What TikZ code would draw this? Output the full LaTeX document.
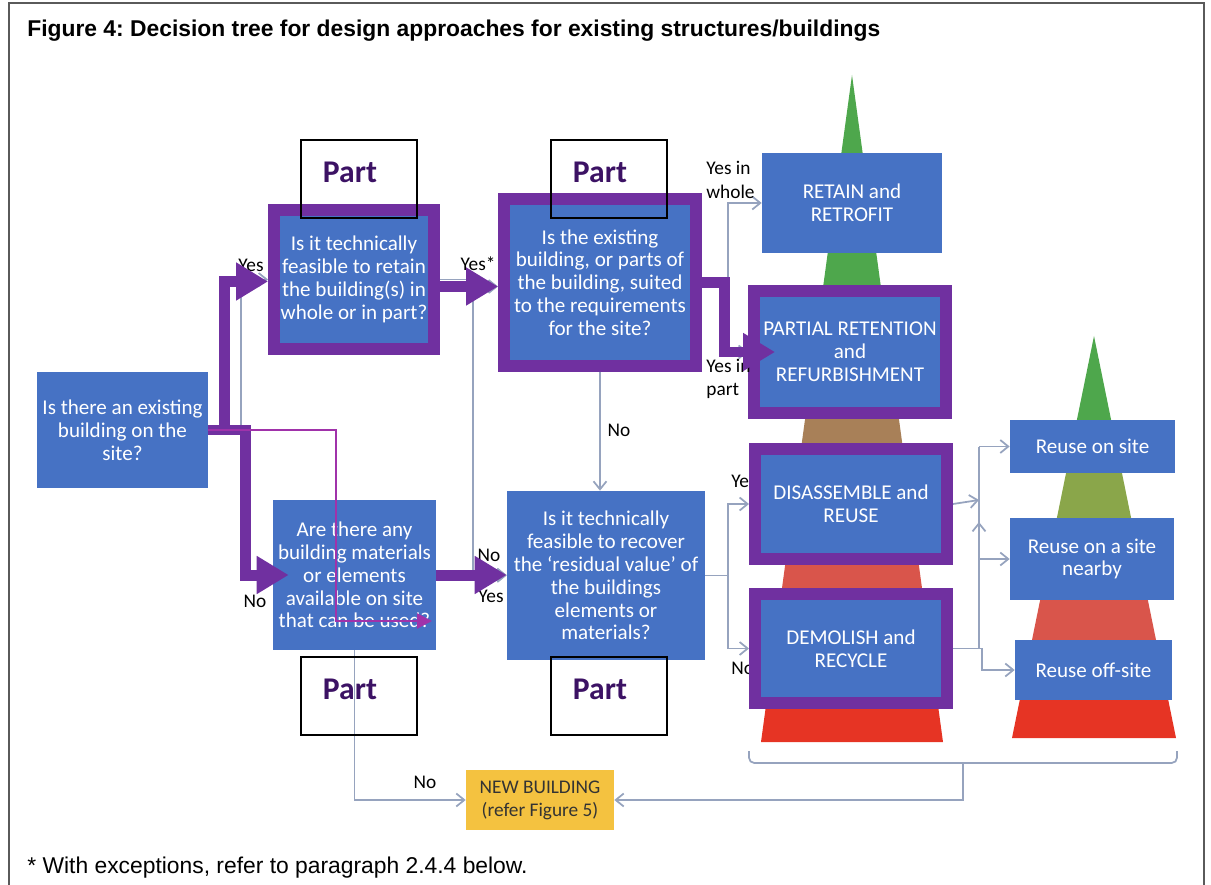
\documentclass[tikz,border=0pt]{standalone}
\usepackage{fontspec}
\setmainfont{Carlito}
\newfontfamily\arialfont{Liberation Sans}
\usetikzlibrary{positioning,arrows.meta}
\frenchspacing

\definecolor{boxblue}{RGB}{70,114,196}
\definecolor{hlpurple}{RGB}{112,48,160}
\definecolor{linegray}{RGB}{150,163,190}
\definecolor{thinmag}{RGB}{160,50,170}
\definecolor{newyellow}{RGB}{244,194,64}
\definecolor{partpurple}{RGB}{60,18,100}
\definecolor{pygreen}{RGB}{78,167,76}
\definecolor{pybrown}{RGB}{168,128,88}
\definecolor{pyolive}{RGB}{138,166,74}
\definecolor{pylred}{RGB}{217,85,75}
\definecolor{pyred}{RGB}{230,52,36}
\definecolor{framegray}{RGB}{90,90,90}

\begin{document}
\begin{tikzpicture}
  [x=0.02cm,y=-0.02cm,
   qbox/.style={rectangle,fill=boxblue,text=white,align=center,inner sep=0pt,
     font=\fontsize{12}{13}\selectfont},
   hlbox/.style={qbox,draw=hlpurple,line width=0.24cm},
   partbox/.style={rectangle,draw=black,line width=0.6pt,minimum width=2.32cm,minimum height=1.56cm},
   parttext/.style={text=partpurple,inner sep=0pt,font=\fontsize{18}{20}\selectfont\bfseries},
   lbl/.style={inner sep=0pt,align=left,font=\fontsize{11}{13.5}\selectfont},
   link/.style={draw=linegray,line width=1pt},
   linkto/.style={link,-{Straight Barb[length=0.16cm,width=0.26cm]}},
   bigarrow/.style={draw=hlpurple,line width=0.22cm,-{Triangle[length=0.64cm,width=0.72cm]}}]

  \useasboundingbox (0,0) rectangle (1211,885);
  \draw[framegray,line width=1pt] (9,885) -- (9,3) -- (1204,3) -- (1204,885);

  \node[anchor=west,inner sep=0pt,font=\arialfont\bfseries\fontsize{13}{15}\selectfont] (title) at (27,31)
    {Figure 4: Decision tree for design approaches for existing structures/buildings};
  \node[anchor=west,inner sep=0pt,font=\arialfont\fontsize{13}{15}\selectfont] (note) at (27,868)
    {* With exceptions, refer to paragraph 2.4.4 below.};

  % pyramids
  \begin{scope}
    \clip (852,75) -- (943,742) -- (761,742) -- cycle;
    \fill[pygreen] (740,60) rectangle (960,300);
    \fill[pybrown] (740,300) rectangle (960,450);
    \fill[pylred] (740,450) rectangle (960,600);
    \fill[pyred] (740,600) rectangle (960,750);
  \end{scope}
  \begin{scope}
    \clip (1094,336) -- (1176,738) -- (1012,738) -- cycle;
    \fill[pygreen] (1000,320) rectangle (1190,430);
    \fill[pyolive] (1000,430) rectangle (1190,520);
    \fill[pylred] (1000,520) rectangle (1190,650);
    \fill[pyred] (1000,650) rectangle (1190,750);
  \end{scope}

  % boxes
  \node[qbox,minimum width=3.42cm,minimum height=2.32cm] (exist) at (122.5,430)
    {Is there an existing\\building on the\\site?};
  \node[hlbox,minimum width=3.2cm,minimum height=2.78cm] (q2) at (354,279.5)
    {Is it technically\\feasible to retain\\the building(s) in\\whole or in part?};
  \node[hlbox,minimum width=3.84cm,minimum height=3.34cm] (q3) at (600,282.5)
    {Is the existing\\building, or parts of\\the building, suited\\to the requirements\\for the site?};
  \node[qbox,minimum width=3.26cm,minimum height=3.0cm] (q4) at (354.5,575)
    {Are there any\\building materials\\or elements\\available on site\\that can be used?};
  \node[qbox,minimum width=3.96cm,minimum height=3.38cm] (q5) at (606,575.5)
    {Is it technically\\feasible to recover\\the `residual value' of\\the buildings\\elements or\\materials?};
  \node[qbox,minimum width=3.6cm,minimum height=2.0cm] (retain) at (852,203)
    {RETAIN and\\RETROFIT};
  \node[hlbox,minimum width=3.84cm,minimum height=2.44cm] (partial) at (850,352)
    {PARTIAL RETENTION\\and\\REFURBISHMENT};
  \node[hlbox,minimum width=3.84cm,minimum height=2.2cm] (disas) at (851,504)
    {DISASSEMBLE and\\REUSE};
  \node[hlbox,minimum width=3.84cm,minimum height=2.18cm] (demol) at (851,648.5)
    {DEMOLISH and\\RECYCLE};
  \node[qbox,minimum width=3.3cm,minimum height=1.06cm] (onsite) at (1092.5,446.5)
    {Reuse on site};
  \node[qbox,minimum width=3.28cm,minimum height=1.64cm] (nearby) at (1092,559)
    {Reuse on a site\\nearby};
  \node[qbox,minimum width=3.14cm,minimum height=1.2cm] (offsite) at (1093.5,670)
    {Reuse off-site};
  \node[qbox,fill=newyellow,text=black!80,minimum width=2.96cm,minimum height=1.2cm,
    font=\fontsize{11}{13}\selectfont] (newb) at (540,800)
    {NEW BUILDING\\(refer Figure 5)};

  % thin connectors
  \draw[linkto] (exist.east) -- ++(33,0) |- (q2.west);
  \draw[linkto] (exist.east) -- ++(33,0) |- (q4.west);
  \draw[linkto] ([shift={(0,7)}]q2.east) -- ([shift={(0,7)}]q2.east -| q3.west);
  \draw[linkto] (q2.east) -- ++(33,0) |- (q5.west);
  \draw[linkto] (q4.east) -- (q4.east -| q5.west);
  \draw[linkto] (q3.south) -- (q3.south |- q5.north);
  \draw[linkto] (q3.east) -- ++(26,0) |- (retain.west);
  \draw[linkto] (q3.east) -- ++(26,0) |- (partial.west);
  \draw[linkto] (q5.east) -- ++(23,0) |- (disas.west);
  \draw[linkto] (q5.east) -- ++(23,0) |- (demol.west);
  \coordinate (bus) at (979,500);
  \draw[linkto] (disas.east) -- (bus);
  \draw[link] (bus |- onsite.west) -- (bus |- nearby.west);
  \draw[linkto] (bus |- onsite.west) -- (onsite.west);
  \draw[linkto] (bus |- nearby.west) -- (nearby.west);
  \draw[linkto] (demol.east) -| ([shift={(0,22)}]bus);
  \draw[linkto] (demol.east) -- ++(29,0) |- (offsite.west);
  \draw[linkto] (q4.south) |- (newb.west);
  \draw[link,rounded corners=3pt] (749,751) -- (749,763) -- (1177,763) -- (1177,751);
  \coordinate (brc) at (963,763);
  \draw[linkto] (brc) |- (newb.east);

  % labels
  \node[lbl] (lyes1) at (251,265) {Yes};
  \node[lbl] (lno1) at (255,601) {No};
  \node[lbl] (lyes2) at (478,264) {Yes*};
  \node[lbl] (lno2) at (489,555) {No};
  \node[lbl] (lyes3) at (491,596) {Yes};
  \node[lbl] (lno3) at (619,430) {No};
  \node[lbl,anchor=west] (lwhole) at (706,180) {Yes in\\whole};
  \node[lbl,anchor=west] (lpart) at (706,379) {Yes in\\part};
  \node[lbl,anchor=west] (lyes4) at (731,481) {Yes};
  \node[lbl,anchor=west] (lno4) at (731,668) {No};
  \node[lbl] (lno5) at (425,782) {No};

  % redraw framed boxes over their labels
  \node[hlbox,minimum width=3.84cm,minimum height=2.2cm] at (disas) {DISASSEMBLE and\\REUSE};
  \node[hlbox,minimum width=3.84cm,minimum height=2.18cm] at (demol) {DEMOLISH and\\RECYCLE};

  % highlighted path
  \draw[bigarrow] (exist.east) -- ++(16,0) |- ([shift={(0,2)}]q2.west);
  \draw[bigarrow] (exist.east) -- ++(37,0) |- ([shift={(16,0)}]q4.west);
  \draw[bigarrow] ([shift={(0,7)}]q2.east) -- ([shift={(0,7)}]q2.east -| q3.west);
  \draw[bigarrow] (q4.east) -- (q4.east -| q5.west);
  \draw[bigarrow] (q3.east) -- ++(23,0) |- ([shift={(27,0)}]partial.west);
  \coordinate (mtip) at (432,621);
  \draw[thinmag,line width=1.2pt,-{Triangle[length=0.3cm,width=0.3cm]}] (exist.east) -- ++(128,0) |- (mtip);

  % part markers
  \node[partbox] (p1) at (359,179) {};
  \node[partbox] (p2) at (609,179) {};
  \node[partbox] (p3) at (359,696) {};
  \node[partbox] (p4) at (609,696) {};
  \node[parttext] (p1t) at ([shift={(-9,-7)}]p1.center) {Part};
  \node[parttext] (p2t) at ([shift={(-9,-7)}]p2.center) {Part};
  \node[parttext] (p3t) at ([shift={(-9,-7)}]p3.center) {Part};
  \node[parttext] (p4t) at ([shift={(-9,-7)}]p4.center) {Part};
\end{tikzpicture}
\end{document}
